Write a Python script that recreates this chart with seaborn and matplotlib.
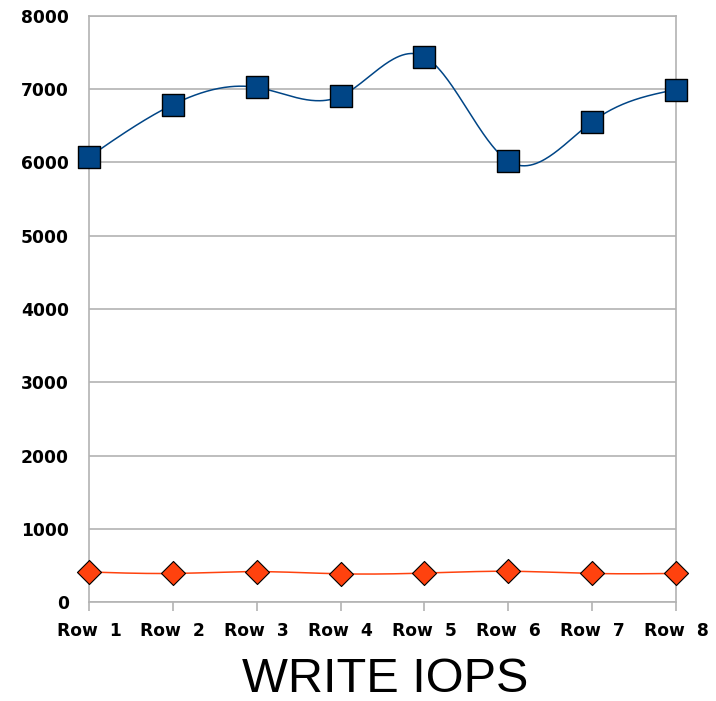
import numpy as np
import pandas as pd
import matplotlib
matplotlib.use("Agg")
import matplotlib.pyplot as plt
import seaborn as sns

# Data
rows = ["Row 1", "Row 2", "Row 3", "Row 4", "Row 5", "Row 6", "Row 7", "Row 8"]
series_a = [6075, 6790, 7025, 6905, 7445, 6020, 6555, 6995]
series_b = [410, 390, 415, 385, 395, 420, 390, 390]
yticks = [0, 1000, 2000, 3000, 4000, 5000, 6000, 7000, 8000]
title = "WRITE IOPS"


def natural_spline(x, y, n=400):
    """Natural cubic spline through (x, y), sampled at n points."""
    x = np.asarray(x, float)
    y = np.asarray(y, float)
    k = len(x)
    h = np.diff(x)
    A = np.zeros((k, k))
    r = np.zeros(k)
    A[0, 0] = A[-1, -1] = 1.0
    for i in range(1, k - 1):
        A[i, i - 1] = h[i - 1]
        A[i, i] = 2 * (h[i - 1] + h[i])
        A[i, i + 1] = h[i]
        r[i] = 3 * ((y[i + 1] - y[i]) / h[i] - (y[i] - y[i - 1]) / h[i - 1])
    c = np.linalg.solve(A, r)
    xs = np.linspace(x[0], x[-1], n)
    idx = np.clip(np.searchsorted(x, xs, side="right") - 1, 0, k - 2)
    dx = xs - x[idx]
    b = (y[idx + 1] - y[idx]) / h[idx] - h[idx] * (2 * c[idx] + c[idx + 1]) / 3
    d = (c[idx + 1] - c[idx]) / (3 * h[idx])
    ys = y[idx] + b * dx + c[idx] * dx ** 2 + d * dx ** 3
    return xs, ys


sns.set_theme(style="white")
plt.rcParams["font.family"] = ["Liberation Sans", "DejaVu Sans"]

fig = plt.figure(figsize=(7.16, 7.01), dpi=100)
ax = fig.add_axes([0.1243, 0.1412, 0.8197, 0.836])

xpos = np.arange(len(rows))
blue = "#004586"
orange = "#ff420e"

xa, ya = natural_spline(xpos, series_a)
xb, yb = natural_spline(xpos, series_b)
curves = pd.DataFrame({"x": np.concatenate([xa, xb]),
                       "y": np.concatenate([ya, yb]),
                       "s": ["a"] * len(xa) + ["b"] * len(xb)})
sns.lineplot(data=curves, x="x", y="y", hue="s", palette={"a": blue, "b": orange},
             linewidth=1.1, legend=False, ax=ax, zorder=3, sort=False)

pts_a = pd.DataFrame({"x": xpos, "y": series_a})
pts_b = pd.DataFrame({"x": xpos, "y": series_b})
sns.scatterplot(data=pts_a, x="x", y="y", marker="s", s=260, color=blue,
                edgecolor="black", linewidth=1.0, ax=ax, zorder=5, clip_on=False)
sns.scatterplot(data=pts_b, x="x", y="y", marker="D", s=150, color=orange,
                edgecolor="black", linewidth=0.8, ax=ax, zorder=5, clip_on=False)

tick_font = {"family": "DejaVu Sans", "weight": "bold", "size": 12.3}

ax.set_xlim(0, len(rows) - 1)
ax.set_ylim(0, 8000)
ax.set_yticks(yticks)
ax.set_yticklabels([str(v) for v in yticks], fontdict=tick_font)
ax.set_xticks(xpos)
ax.set_xticklabels([r.replace(" ", "  ") for r in rows], fontdict=tick_font)
ax.set_xlabel("")
ax.set_ylabel("")

ax.grid(axis="y", color="#b3b3b3", linewidth=1.2)
ax.grid(axis="x", visible=False)
ax.set_axisbelow(True)
for sp in ax.spines.values():
    sp.set_color("#b3b3b3")
    sp.set_linewidth(1.2)
ax.tick_params(axis="both", which="both", direction="out", length=6.5, width=1.2,
               color="#b3b3b3", labelcolor="black")
ax.tick_params(axis="y", pad=8)
ax.tick_params(axis="x", pad=8, bottom=True)

fig.text(0.538, 0.031, title, ha="center", va="center", fontsize=35, color="black")

fig.savefig("out.png", dpi=100)
